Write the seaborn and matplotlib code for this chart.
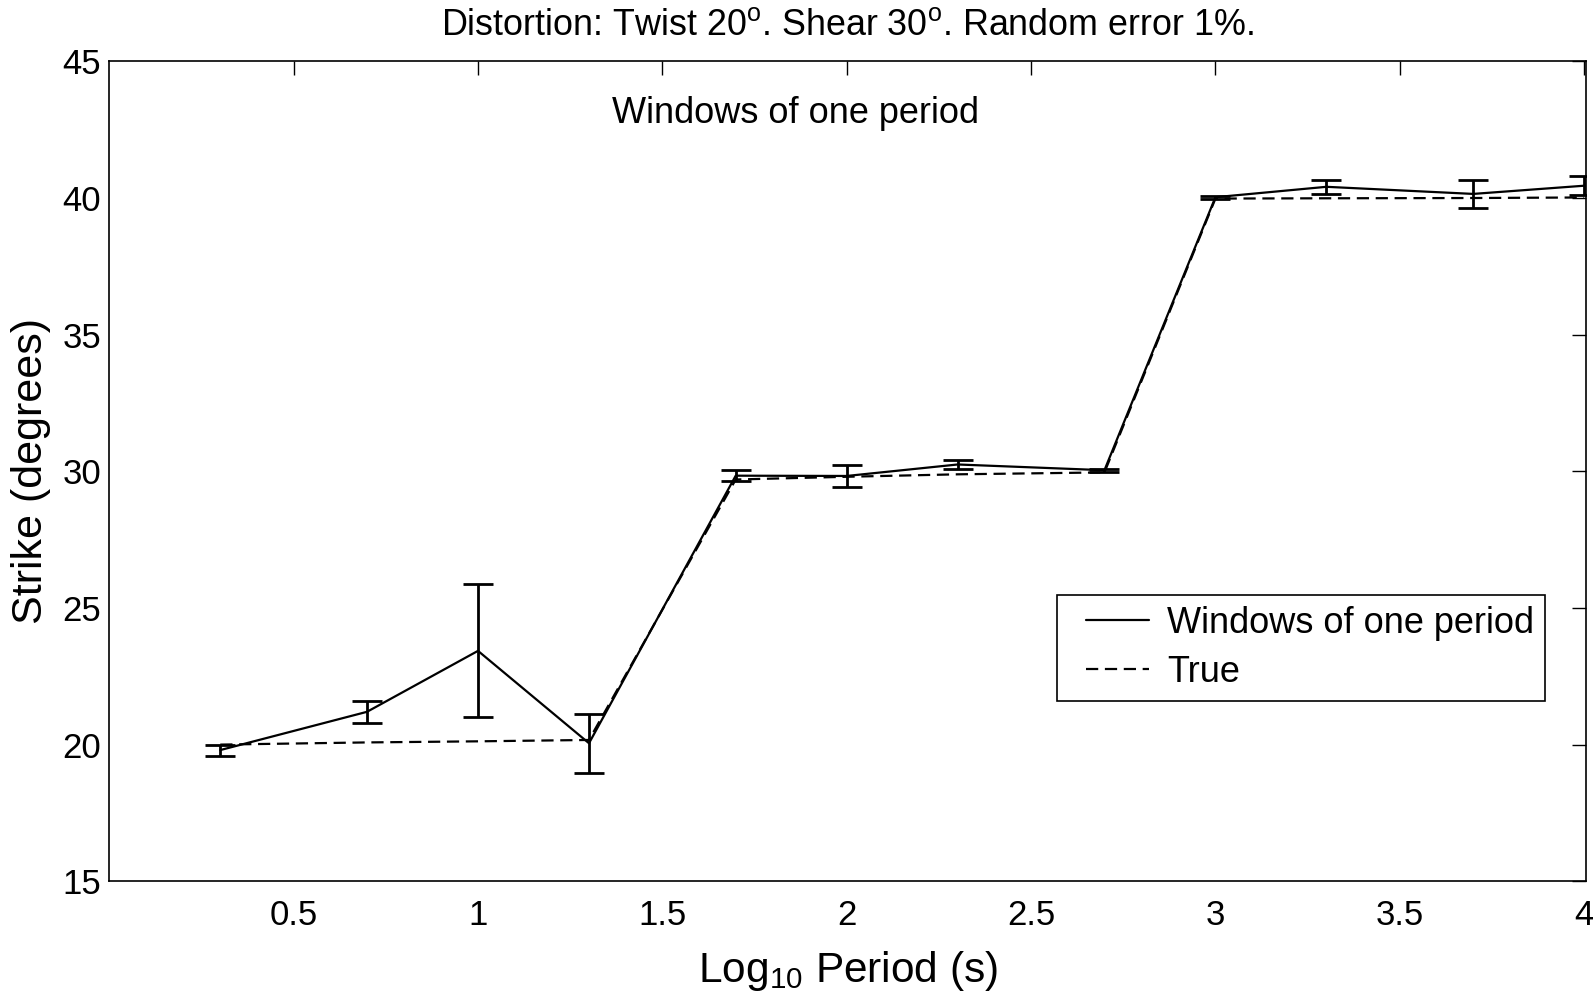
import numpy as np
import pandas as pd
import matplotlib
matplotlib.use("Agg")
import matplotlib.pyplot as plt
import seaborn as sns
from matplotlib.legend_handler import HandlerLine2D

# periods (s) and strike values
periods = [2, 5, 10, 20, 50, 100, 200, 500, 1000, 2000, 5000, 10000]
strike_est = [19.8, 21.2, 23.43, 20.05, 29.84, 29.83, 30.25, 30.04, 40.03, 40.41, 40.15, 40.45]
strike_err = [0.2, 0.4, 2.43, 1.08, 0.2, 0.39, 0.18, 0.05, 0.05, 0.26, 0.5, 0.35]
strike_true = [20.0, 20.08, 20.12, 20.17, 29.7, 29.8, 29.89, 29.96, 39.98, 39.99, 40.0, 40.02]

x_ticks = [0.5, 1, 1.5, 2, 2.5, 3, 3.5, 4]
x_tick_labels = ["0.5", "1", "1.5", "2", "2.5", "3", "3.5", "4"]
y_ticks = [15, 20, 25, 30, 35, 40, 45]

df = pd.DataFrame({
    "logT": np.log10(periods),
    "est": strike_est,
    "err": strike_err,
    "true": strike_true,
})

sns.set_theme(style="white")
plt.rcParams["font.family"] = ["Liberation Sans", "DejaVu Sans"]
plt.rcParams["mathtext.fontset"] = "custom"
plt.rcParams["mathtext.rm"] = "Liberation Sans"
plt.rcParams["mathtext.it"] = "Liberation Sans:italic"
plt.rcParams["text.color"] = "black"
plt.rcParams["axes.labelcolor"] = "black"

fig = plt.figure(figsize=(15.93, 10.06), dpi=100)
ax = fig.add_axes([0.0686, 0.124, 0.927, 0.815])

sns.lineplot(data=df, x="logT", y="true", ax=ax, color="black", lw=1.6,
             linestyle=(0, (5.5, 3)), label="True")
sns.lineplot(data=df, x="logT", y="est", ax=ax, color="black", lw=1.6,
             label="Windows of one period")
ax.errorbar(df["logT"], df["est"], yerr=df["err"], fmt="none", ecolor="black",
            elinewidth=2, capsize=10.5, capthick=2, label="_nolegend_")

ax.set_xlim(0, 4.005)
ax.set_ylim(15, 45)
ax.set_xticks(x_ticks)
ax.set_xticklabels(x_tick_labels)
ax.set_yticks(y_ticks)
ax.tick_params(direction="in", length=10, width=1, top=True, right=True,
               labelsize=25, colors="black")
ax.tick_params(axis="x", pad=13)
ax.tick_params(axis="y", pad=6)
for sp in ax.spines.values():
    sp.set_color("black")
    sp.set_linewidth(1.2)

ax.set_xlabel(r"Log$_{\mathregular{10}}$ Period (s)", fontsize=30.5, labelpad=12)
ax.set_ylabel("Strike (degrees)", fontsize=31, labelpad=8)
ax.set_title(r"Distortion: Twist 20$^{\mathregular{o}}$. Shear 30$^{\mathregular{o}}$. Random error 1%.",
             fontsize=25.8, pad=19)
ax.text(0.4647, 0.936, "Windows of one period", transform=ax.transAxes,
        ha="center", va="center", fontsize=26)

handles, labels = ax.get_legend_handles_labels()
order = [labels.index("Windows of one period"), labels.index("True")]
leg = ax.legend([handles[i] for i in order], [labels[i] for i in order],
                loc="upper left", bbox_to_anchor=(0.642, 0.349),
                fontsize=26, frameon=True, fancybox=False,
                edgecolor="black", framealpha=1, handlelength=2.25,
                borderpad=0.3, labelspacing=0.38, handletextpad=0.5,
                borderaxespad=0,
                handler_map={h: HandlerLine2D(xpad=0.5) for h in handles})
leg.get_frame().set_linewidth(1.2)

fig.savefig("out.png", dpi=100)
